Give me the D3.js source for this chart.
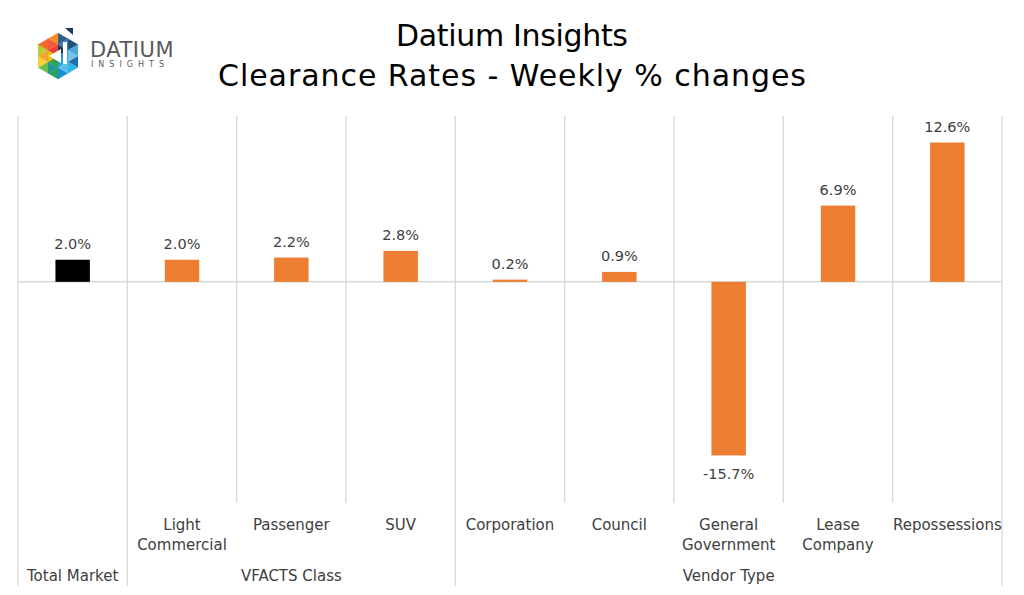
<!DOCTYPE html>
<html><head><meta charset="utf-8">
<script src="https://cdn.jsdelivr.net/npm/d3@7"></script>
<style>body{margin:0;background:#fff}svg{display:block}text{font-family:"DejaVu Sans",sans-serif}</style>
</head><body><svg id="c" width="1024" height="595"></svg>
<script>
const categories = ["Total Market","Light\nCommercial","Passenger","SUV","Corporation","Council","General\nGovernment","Lease\nCompany","Repossessions"];
const values = [2.0, 2.0, 2.2, 2.8, 0.2, 0.9, -15.7, 6.9, 12.6];
const groups = [
  {name:"Total Market", start:0, end:0},
  {name:"VFACTS Class", start:1, end:3},
  {name:"Vendor Type", start:4, end:8}
];
const barColors = ["#000000","#ED7D31","#ED7D31","#ED7D31","#ED7D31","#ED7D31","#ED7D31","#ED7D31","#ED7D31"];
const yDomain = [-20, 15];

(function(){
const svg = d3.select("#c");
const pLeft = 18, pRight = 1002, pTop = 116, pBottom = 503, groupBottom = 586;

const x = d3.scaleBand().domain(d3.range(categories.length)).range([pLeft, pRight]).paddingInner(0).paddingOuter(0);
const y = d3.scaleLinear().domain(yDomain).range([pBottom, pTop]);
const bw = x.bandwidth()*0.315;

// title
svg.append("text").attr("x",512).attr("y",46).attr("text-anchor","middle").attr("font-size",30).attr("fill","#000")
  .attr("textLength",232).attr("lengthAdjust","spacing").text("Datium Insights");
svg.append("text").attr("x",512).attr("y",86).attr("text-anchor","middle").attr("font-size",30).attr("fill","#000")
  .attr("textLength",588).attr("lengthAdjust","spacing").text("Clearance Rates - Weekly % changes");

// gridlines (vertical)
const grid = svg.append("g").attr("stroke","#d9d9d9").attr("stroke-width",1.3);
const groupEdges = new Set();
groups.forEach(g=>{groupEdges.add(g.start); groupEdges.add(g.end+1);});
d3.range(categories.length+1).forEach(i=>{
  const xx = i < categories.length ? x(i) : x(categories.length-1)+x.bandwidth();
  grid.append("line").attr("x1",xx).attr("x2",xx).attr("y1",pTop).attr("y2",groupEdges.has(i)?groupBottom:pBottom);
});
// zero line
svg.append("line").attr("x1",pLeft).attr("x2",pRight).attr("y1",y(0)).attr("y2",y(0)).attr("stroke","#d9d9d9").attr("stroke-width",1.5);

// bars
svg.append("g").selectAll("rect").data(values).join("rect")
  .attr("x",(d,i)=>x(i)+x.bandwidth()/2-bw/2)
  .attr("width",bw)
  .attr("y",d=>y(Math.max(0,d)))
  .attr("height",d=>Math.abs(y(d)-y(0)))
  .attr("fill",(d,i)=>barColors[i]);

// value labels
svg.append("g").selectAll("text").data(values).join("text")
  .attr("x",(d,i)=>x(i)+x.bandwidth()/2)
  .attr("y",d=> d>=0 ? y(d)-11 : y(d)+24)
  .attr("text-anchor","middle").attr("font-size",14.5).attr("fill","#404040")
  .text(d=>d.toFixed(1)+"%");

// category labels
const catG = svg.append("g");
categories.forEach((c,i)=>{
  const inGroupRow = groups.some(g=>g.start===i && g.end===i && g.name===c);
  if(inGroupRow) return;
  const lines = c.split("\n");
  const t = catG.append("text").attr("x",x(i)+x.bandwidth()/2).attr("y",530).attr("text-anchor","middle").attr("font-size",15).attr("fill","#404040");
  lines.forEach((l,k)=>t.append("tspan").attr("x",x(i)+x.bandwidth()/2).attr("dy",k?20:0).text(l));
});
// group labels
groups.forEach(g=>{
  const cx = (x(g.start) + x(g.end)+x.bandwidth())/2;
  svg.append("text").attr("x",cx).attr("y",581).attr("text-anchor","middle").attr("font-size",15).attr("fill","#404040").text(g.name);
});

// logo
const logo = svg.append("g").attr("transform","translate(58,56)");
const R = 23;
const pts = d3.range(6).map(k=>{const a = Math.PI/180*(60*k-90); return [R*Math.cos(a), R*Math.sin(a)];});
const segColors = [
  ["#1b3a5c","#2b5f86","#1f4e79","#3a7cb3"],
  ["#2f8fc9","#4aa8dc","#1e6fa8","#78c3e8"],
  ["#1fa3dc","#32b4e6","#1a8fcf","#56c0ea"],
  ["#3ca04a","#23a35f","#6cbf4b","#1e9a8c"],
  ["#f3c300","#f7d23a","#b8cf3a","#f0a531"],
  ["#e9423a","#f26b2c","#f58d2a","#ee5a3a"]
];
for(let k=0;k<6;k++){
  const a=[0,0], b=pts[k], c=pts[(k+1)%6];
  const mab=[(a[0]+b[0])/2,(a[1]+b[1])/2], mbc=[(b[0]+c[0])/2,(b[1]+c[1])/2], mac=[(a[0]+c[0])/2,(a[1]+c[1])/2];
  const tris=[[a,mab,mac],[mab,b,mbc],[mac,mbc,c],[mab,mbc,mac]];
  tris.forEach((t,j)=>logo.append("path").attr("d","M"+t.map(p=>p.join(",")).join("L")+"Z").attr("fill",segColors[k][j]).attr("stroke",segColors[k][j]).attr("stroke-width",0.3));
}
logo.append("path").attr("d","M-9,0L3,-7L3,7Z").attr("fill","#fff");
logo.append("rect").attr("x",5).attr("y",-14).attr("width",4).attr("height",22).attr("fill","#fff");
logo.append("path").attr("d","M7,-28L15,-28L15,-21Z").attr("fill","#1b3a5c");
svg.append("text").attr("x",90).attr("y",57).attr("font-size",21).attr("fill","#58595b").attr("letter-spacing",0.5).text("DATIUM");
svg.append("text").attr("x",91).attr("y",67).attr("font-size",8).attr("fill","#58595b").attr("letter-spacing",5).text("INSIGHTS");
})();
</script></body></html>
